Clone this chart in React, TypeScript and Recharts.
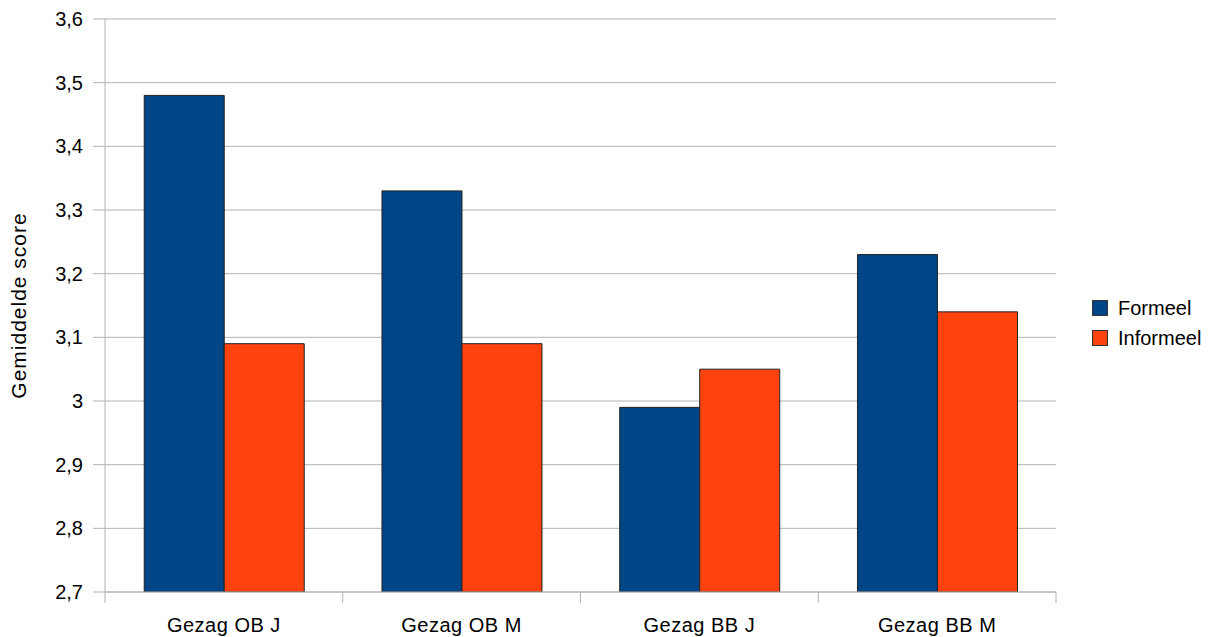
import React from "react";
import { BarChart, Bar, XAxis, YAxis, CartesianGrid, Legend } from "recharts";

const categories = ["Gezag OB J", "Gezag OB M", "Gezag BB J", "Gezag BB M"];
const formeel = [3.48, 3.33, 2.99, 3.23];
const informeel = [3.09, 3.09, 3.05, 3.14];
const yTicks = [2.7, 2.8, 2.9, 3.0, 3.1, 3.2, 3.3, 3.4, 3.5, 3.6];

const COLORS = { formeel: "#004586", informeel: "#ff420e" };
const GRID = "#b3b3b3";
const FONT = "'Liberation Sans', Arial, sans-serif";

const W = 1212;
const H = 637;
const PLOT_LEFT = 105;
const PLOT_RIGHT = 1056;
const BAND = (PLOT_RIGHT - PLOT_LEFT) / categories.length;

const data = categories.map((name, i) => ({
  name,
  Formeel: formeel[i],
  Informeel: informeel[i],
}));

const fmt = (v: number) => v.toFixed(1).replace(".", ",").replace(",0", "");

// category label plus tick marks on the band boundaries
const XTick = (props: any) => {
  const { x, y, payload, index } = props;
  const isLast = index === categories.length - 1;
  return (
    <g>
      <line x1={x - BAND / 2} x2={x - BAND / 2} y1={y - 8} y2={y + 3} stroke={GRID} />
      {isLast && <line x1={x + BAND / 2} x2={x + BAND / 2} y1={y - 8} y2={y + 3} stroke={GRID} />}
      <text x={x} y={y + 32} textAnchor="middle" fontSize={20} letterSpacing={0.5} fill="#000" fontFamily={FONT}>
        {payload.value}
      </text>
    </g>
  );
};

const LegendBox = () => (
  <div style={{ fontFamily: FONT, fontSize: 20, color: "#000" }}>
    {[
      ["Formeel", COLORS.formeel],
      ["Informeel", COLORS.informeel],
    ].map(([label, color]) => (
      <div key={label} style={{ display: "flex", alignItems: "center", height: 30 }}>
        <span
          style={{
            display: "inline-block",
            width: 14,
            height: 14,
            background: color,
            border: "1px solid #333",
            marginRight: 10,
          }}
        />
        {label}
      </div>
    ))}
  </div>
);

export default function App() {
  return (
    <div style={{ position: "absolute", left: 0, top: 0, background: "#fff" }}>
      <BarChart
        width={W}
        height={H}
        data={data}
        margin={{ top: 19, right: W - PLOT_RIGHT, bottom: 0, left: 0 }}
        barCategoryGap="16.5%"
        barGap={0}
      >
        <CartesianGrid vertical={false} stroke={GRID} />
        <XAxis
          dataKey="name"
          height={45}
          axisLine={{ stroke: GRID }}
          tickLine={false}
          tick={<XTick />}
          interval={0}
        />
        <YAxis
          width={PLOT_LEFT}
          domain={[2.7, 3.6]}
          ticks={yTicks}
          allowDataOverflow
          tickFormatter={fmt}
          axisLine={{ stroke: GRID }}
          tickLine={{ stroke: GRID }}
          tickSize={12}
          tickMargin={10}
          tick={{ fill: "#000", fontSize: 20, fontFamily: FONT }}
          label={{
            value: "Gemiddelde score",
            angle: -90,
            position: "center",
            dx: -34,
            style: { fill: "#000", fontSize: 21, letterSpacing: 1, fontFamily: FONT, textAnchor: "middle" },
          }}
        />
        <Legend
          content={<LegendBox />}
          layout="horizontal"
          verticalAlign="middle"
          align="center"
          wrapperStyle={{ position: "absolute", left: 1092, top: 293, width: 120 }}
        />
        <Bar dataKey="Formeel" fill={COLORS.formeel} stroke="#222" strokeWidth={1} isAnimationActive={false} />
        <Bar dataKey="Informeel" fill={COLORS.informeel} stroke="#222" strokeWidth={1} isAnimationActive={false} />
      </BarChart>
    </div>
  );
}
